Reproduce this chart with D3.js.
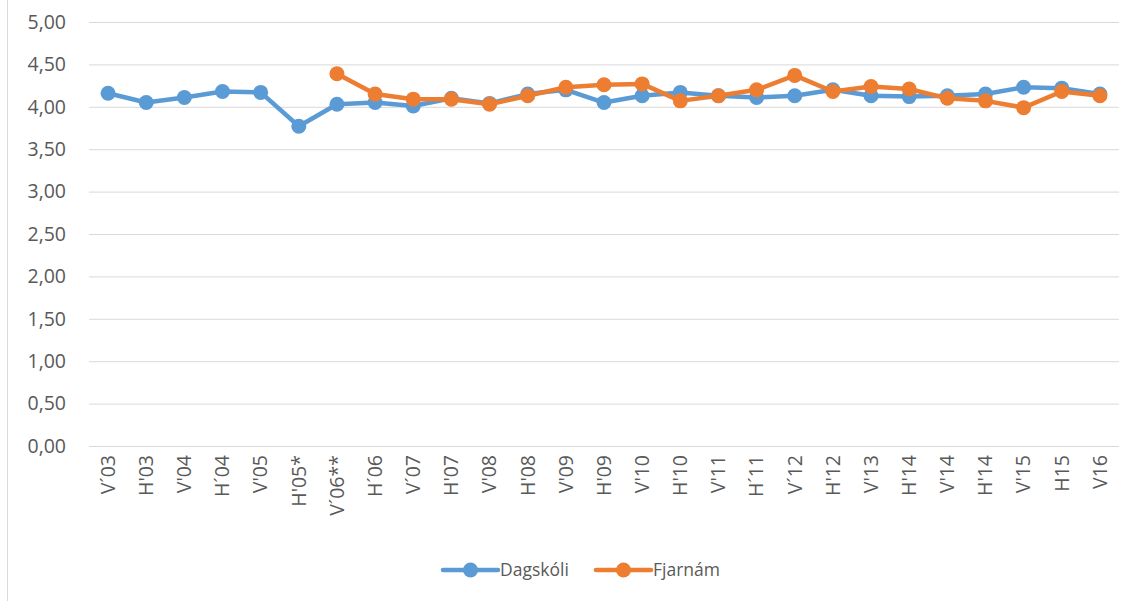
<!DOCTYPE html>
<html><head><meta charset="utf-8">
<script src="https://cdn.jsdelivr.net/npm/d3@7"></script>
<style>body{margin:0;background:#fff;}svg{display:block;font-family:"Open Sans","Noto Sans",sans-serif;}</style>
</head><body><svg id="c" width="1134" height="601"></svg>
<script>
const categories = ["V´03","H'03","V'04","H´04","V'05","H'05*","V´06**","H´06","V´07","H'07","V'08","H'08","V'09","H'09","V'10","H'10","V'11","H´11","V´12","H'12","V'13","H'14","V'14","H'14","V'15","H15","V16"];
const dagskoli = [4.16,4.05,4.11,4.18,4.17,3.77,4.03,4.05,4.01,4.10,4.04,4.15,4.20,4.05,4.13,4.17,4.13,4.11,4.13,4.20,4.13,4.12,4.13,4.15,4.23,4.22,4.15];
const fjarnam = [null,null,null,null,null,null,4.39,4.15,4.09,4.09,4.03,4.13,4.23,4.26,4.27,4.07,4.13,4.20,4.37,4.18,4.24,4.21,4.10,4.07,3.99,4.18,4.13];
const yTicks = [0,0.5,1,1.5,2,2.5,3,3.5,4,4.5,5];
const seriesNames = ["Dagskóli","Fjarnám"];
const colors = ["#5B9BD5","#ED7D31"];

const svg = d3.select("#c");
const L = 89, R = 1119, T = 22, B = 446;
svg.append("line").attr("x1",7.5).attr("x2",7.5).attr("y1",0).attr("y2",601).attr("stroke","#d9d9d9");
const x = d3.scalePoint().domain(d3.range(categories.length)).range([L,R]).padding(0.5);
const y = d3.scaleLinear().domain([0,5]).range([B,T]);
const fmt = v => d3.format(".2f")(v).replace(".",",");

svg.append("g").selectAll("line").data(yTicks).join("line")
  .attr("x1",L).attr("x2",R).attr("y1",d=>y(d)+0.5).attr("y2",d=>y(d)+0.5)
  .attr("stroke","#d9d9d9").attr("stroke-width",1);
svg.append("g").selectAll("text").data(yTicks).join("text")
  .attr("x",66).attr("y",d=>y(d)).attr("dy","0.35em").attr("text-anchor","end")
  .attr("font-size",19.5).attr("fill","#595959").text(fmt);
svg.append("g").selectAll("text").data(categories).join("text")
  .attr("transform",(d,i)=>`translate(${x(i)},455) rotate(-90)`)
  .attr("dy","0.35em").attr("text-anchor","end")
  .attr("font-size",19.5).attr("fill","#595959").text(d=>d);

[dagskoli,fjarnam].forEach((vals,k)=>{
  const pts = vals.map((v,i)=>({i,v})).filter(d=>d.v!=null);
  const line = d3.line().x(d=>x(d.i)).y(d=>y(d.v));
  svg.append("path").attr("d",line(pts)).attr("fill","none").attr("stroke",colors[k])
    .attr("stroke-width",4.5).attr("stroke-linejoin","round").attr("stroke-linecap","round");
  svg.append("g").selectAll("circle").data(pts).join("circle")
    .attr("cx",d=>x(d.i)).attr("cy",d=>y(d.v)).attr("r",7.5).attr("fill",colors[k]);
});

const legX = [443,596];
seriesNames.forEach((n,i)=>{
  const g = svg.append("g").attr("transform",`translate(${legX[i]},570)`);
  g.append("line").attr("x1",0).attr("x2",55).attr("stroke",colors[i]).attr("stroke-width",4.5).attr("stroke-linecap","round");
  g.append("circle").attr("cx",27.5).attr("r",7.5).attr("fill",colors[i]);
  g.append("text").attr("x",57).attr("dy","0.35em").attr("font-size",17.5).attr("fill","#595959").text(n);
});
</script></body></html>
